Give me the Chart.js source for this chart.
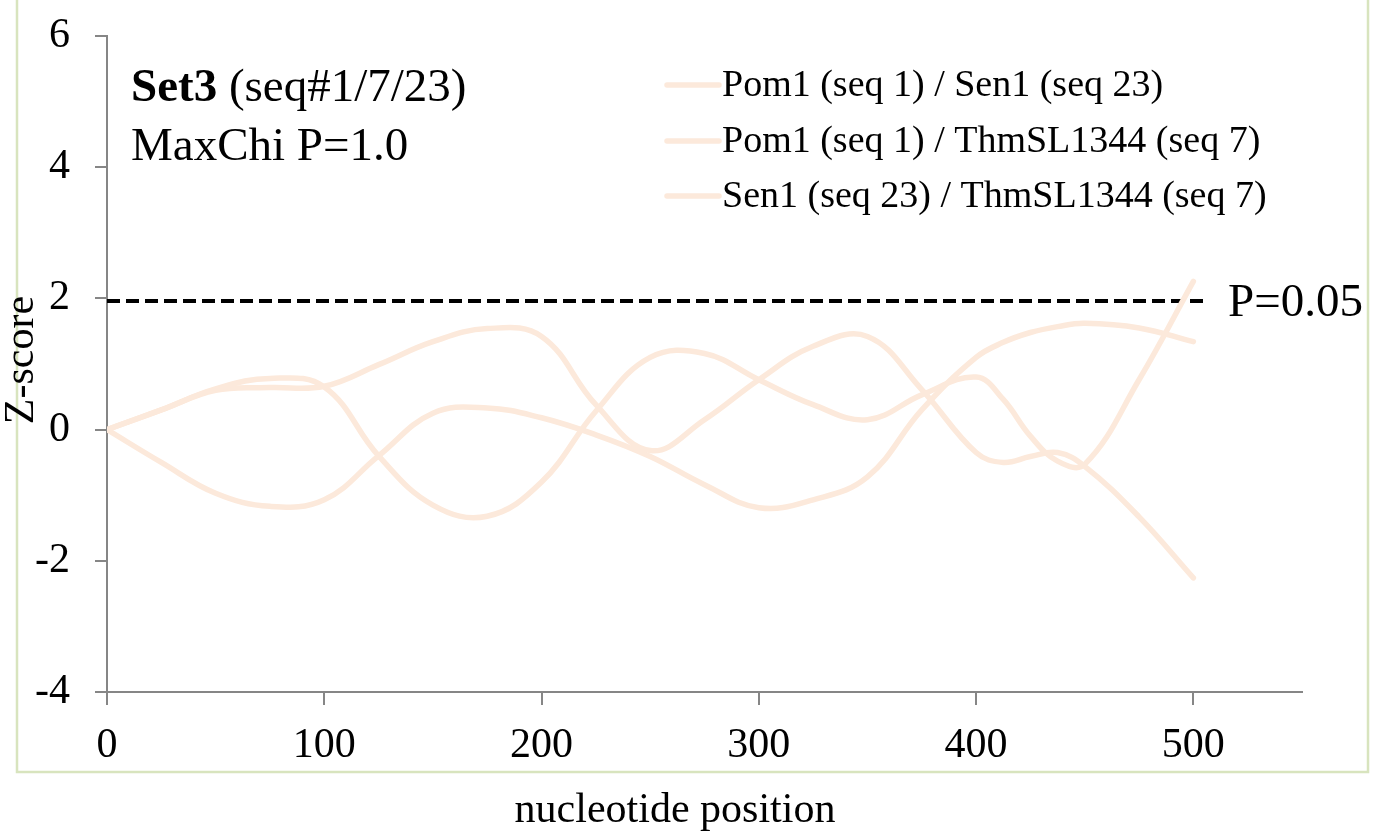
<!DOCTYPE html>
<html>
<head>
<meta charset="utf-8">
<title>Set3 MaxChi</title>
<script src="https://cdn.jsdelivr.net/npm/chart.js@4/dist/chart.umd.min.js"></script>
<style>
  html, body { margin: 0; padding: 0; background: #fff; }
  canvas { display: block; }
</style>
</head>
<body>
<canvas id="chart" width="1376" height="837"></canvas>
<script>
// ====== Données ======
const positions = [0, 25, 50, 75, 100, 125, 150, 175, 200, 225, 250, 275, 300, 325, 350, 375, 400, 412.5, 425, 437.5, 450, 475, 500];

const pomSen   = [0, 0.30, 0.62, 0.78, 0.65, -0.40, -1.15, -1.32, -0.80, 0.28, 1.10, 1.16, 0.76, 0.38, 0.15, 0.53, 0.80, 0.46, -0.10, -0.48, -0.53, 0.76, 2.26];
const pomThm   = [0, 0.30, 0.60, 0.64, 0.66, 0.99, 1.34, 1.54, 1.42, 0.38, -0.32, 0.15, 0.76, 1.27, 1.42, 0.61, -0.35, -0.50, -0.41, -0.35, -0.56, -1.33, -2.26];
const senThm   = [0, -0.50, -0.97, -1.17, -1.07, -0.40, 0.25, 0.33, 0.18, -0.08, -0.41, -0.84, -1.19, -1.07, -0.72, 0.30, 1.10, 1.33, 1.48, 1.57, 1.62, 1.55, 1.34];

const seriesLabels = [
  "Pom1 (seq 1) / Sen1 (seq 23)",
  "Pom1 (seq 1) / ThmSL1344 (seq 7)",
  "Sen1 (seq 23) / ThmSL1344 (seq 7)"
];

const thresholdX = [0, 506];
const thresholdZ = 1.96;
const thresholdLabel = "P=0.05";

const xTicks = [0, 100, 200, 300, 400, 500];
const yTicks = [-4, -2, 0, 2, 4, 6];

const titleBold = "Set3";
const titleRest = " (seq#1/7/23)";
const subtitle  = "MaxChi P=1.0";
const xTitle = "nucleotide position";
const yTitle = "Z-score";

// ====== Styles ======
const FONT = '"Liberation Serif", "Times New Roman", serif';
const LINE_COLOR = "rgb(252,233,219)";
const AXIS_COLOR = "#868686";

function toPoints(xs, ys) {
  return xs.map((x, i) => ({ x, y: ys[i] }));
}

const curves = [pomSen, pomThm, senThm].map((vals, i) => ({
  label: seriesLabels[i],
  data: toPoints(positions, vals),
  borderColor: LINE_COLOR,
  borderWidth: 5.5,
  borderCapStyle: "round",
  pointRadius: 0,
  tension: 0.4,
  fill: false
}));

const threshold = {
  label: thresholdLabel,
  data: thresholdX.map(x => ({ x, y: thresholdZ })),
  borderColor: "#000",
  borderWidth: 4,
  borderDash: [13, 6],
  pointRadius: 0,
  tension: 0,
  fill: false,
  isThreshold: true
};

// ====== Cadre, légende et annotations ======
const decorPlugin = {
  id: "decor",
  beforeDraw(chart) {
    const ctx = chart.ctx;
    ctx.save();
    ctx.strokeStyle = "rgb(216,228,190)";
    ctx.lineWidth = 2.5;
    ctx.strokeRect(17, -5, 1351, 777);
    ctx.restore();
  },
  afterDraw(chart) {
    const ctx = chart.ctx;
    const area = chart.chartArea;
    ctx.save();
    ctx.fillStyle = "#000";

    // titre dans le graphique
    ctx.textBaseline = "alphabetic";
    ctx.textAlign = "left";
    ctx.font = "bold 47px " + FONT;
    ctx.fillText(titleBold, 131, 101);
    const w = ctx.measureText(titleBold).width;
    ctx.font = "47px " + FONT;
    ctx.fillText(titleRest, 131 + w, 101);
    ctx.fillText(subtitle, 131, 160);

    // légende
    ctx.font = "38px " + FONT;
    ctx.textBaseline = "middle";
    const rowsY = [85, 141, 196];
    chart.data.datasets.filter(d => !d.isThreshold).forEach((ds, i) => {
      ctx.strokeStyle = ds.borderColor;
      ctx.lineWidth = 5.5;
      ctx.lineCap = "round";
      ctx.beginPath();
      ctx.moveTo(667, rowsY[i]);
      ctx.lineTo(719, rowsY[i]);
      ctx.stroke();
      ctx.fillStyle = "#000";
      ctx.fillText(ds.label, 722, rowsY[i] + 1);
    });

    // étiquette du seuil
    const yPix = chart.scales.y.getPixelForValue(thresholdZ);
    ctx.font = "47px " + FONT;
    ctx.fillText(thresholdLabel, 1228, yPix + 3);

    // titres des axes
    ctx.font = "42px " + FONT;
    ctx.textAlign = "center";
    ctx.fillText(xTitle, 675, 811);
    ctx.translate(22, (area.top + area.bottom) / 2 - 4);
    ctx.rotate(-Math.PI / 2);
    ctx.fillText(yTitle, 0, 0);
    ctx.restore();
  }
};

new Chart(document.getElementById("chart"), {
  type: "line",
  data: { datasets: [...curves, threshold] },
  options: {
    responsive: false,
    animation: false,
    layout: { padding: { left: 0, top: 36, right: 74, bottom: 0 } },
    plugins: { legend: { display: false }, tooltip: { enabled: false } },
    scales: {
      x: {
        type: "linear",
        min: 0,
        max: 550,
        afterBuildTicks: s => { s.ticks = xTicks.map(v => ({ value: v })); },
        afterFit: s => { s.height = 145; s.paddingLeft = 0; s.paddingRight = 0; },
        grid: { drawOnChartArea: false, drawTicks: true, tickLength: 13, color: AXIS_COLOR, lineWidth: 2 },
        border: { display: true, color: AXIS_COLOR, width: 2 },
        ticks: { color: "#000", font: { family: FONT, size: 42 }, padding: 16, maxRotation: 0 }
      },
      y: {
        type: "linear",
        min: -4,
        max: 6,
        afterBuildTicks: s => { s.ticks = yTicks.map(v => ({ value: v })); },
        afterFit: s => { s.width = 107; s.paddingTop = 0; s.paddingBottom = 0; },
        grid: { drawOnChartArea: false, drawTicks: true, tickLength: 12, color: AXIS_COLOR, lineWidth: 2 },
        border: { display: true, color: AXIS_COLOR, width: 2 },
        ticks: { color: "#000", font: { family: FONT, size: 42 }, padding: 25 }
      }
    }
  },
  plugins: [decorPlugin]
});
</script>
</body>
</html>
